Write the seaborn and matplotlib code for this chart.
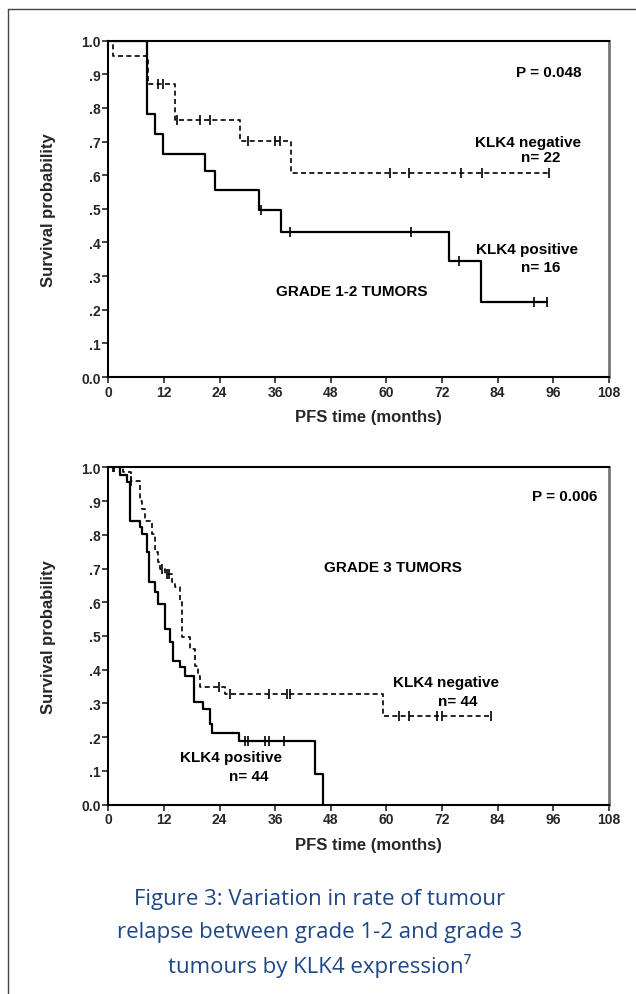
import numpy as np
import pandas as pd
import matplotlib.pyplot as plt
import seaborn as sns
from matplotlib.lines import Line2D

# ---- grade 1-2 tumours (step times in months, survival after step) ----
g12_neg_t = [0, 1.1, 8.6, 14.4, 28.4, 39.4, 95.0]
g12_neg_s = [1.0, 0.954, 0.872, 0.763, 0.703, 0.607, 0.607]
g12_neg_cens = [10.8, 11.9, 14.8, 19.8, 22.0, 30.2, 36.0, 37.0, 60.8, 64.8, 76.0, 80.6, 95.0]

g12_pos_t = [0, 8.3, 10.1, 11.7, 20.9, 23.0, 32.6, 37.3, 73.4, 80.3, 94.7]
g12_pos_s = [1.0, 0.783, 0.723, 0.664, 0.614, 0.557, 0.496, 0.43, 0.344, 0.224, 0.224]
g12_pos_cens = [33.0, 39.2, 65.2, 75.6, 91.8, 94.7]

# ---- grade 3 tumours ----
g3_neg_t = [0, 3.2, 5.0, 6.8, 7.2, 7.9, 9.4, 10.1, 10.8, 11.2, 12.2, 13.7, 14.4,
            15.5, 15.8, 17.6, 18.7, 19.3, 19.8, 25.2, 59.3, 82.6]
g3_neg_s = [1.0, 0.985, 0.96, 0.90, 0.876, 0.842, 0.802, 0.748, 0.718, 0.699, 0.684, 0.659, 0.644,
            0.60, 0.496, 0.461, 0.41, 0.382, 0.35, 0.328, 0.264, 0.264]
g3_neg_cens = [1.0, 5.0, 11.5, 12.6, 13.2, 23.8, 26.3, 34.6, 38.5, 39.2, 62.6, 64.8, 70.9, 72.0, 82.6]

g3_pos_t = [0, 2.5, 4.0, 4.7, 6.8, 7.2, 8.3, 8.8, 10.1, 10.8, 12.2, 13.3, 14.0, 15.5,
            16.6, 18.4, 20.5, 22.0, 22.3, 28.1, 44.5, 46.4]
g3_pos_s = [1.0, 0.977, 0.955, 0.842, 0.822, 0.802, 0.748, 0.659, 0.63, 0.595, 0.52, 0.481, 0.427, 0.408,
            0.382, 0.303, 0.284, 0.239, 0.212, 0.188, 0.091, 0.0]
g3_pos_cens = [1.2, 29.5, 30.2, 33.8, 34.6, 37.8]

x_ticks = [0, 12, 24, 36, 48, 60, 72, 84, 96, 108]
y_ticks = [0.0, 0.1, 0.2, 0.3, 0.4, 0.5, 0.6, 0.7, 0.8, 0.9, 1.0]
y_ticklabels = ["0.0", ".1", ".2", ".3", ".4", ".5", ".6", ".7", ".8", ".9", "1.0"]

caption = ["Figure 3: Variation in rate of tumour",
           "relapse between grade 1-2 and grade 3",
           "tumours by KLK4 expression\u2077"]

sns.set_style("white")
plt.rcParams["font.family"] = ["Liberation Sans", "DejaVu Sans"]

W, H = 636, 995
fig = plt.figure(figsize=(W / 100, H / 100), dpi=100)


def ax_rect(left, top, right, bottom):
    return [left / W, 1 - bottom / H, (right - left) / W, (bottom - top) / H]


def km_frame(t, s):
    return pd.DataFrame({"month": t, "surv": s})


def cens_frame(tc, t, s):
    idx = np.searchsorted(t, tc, side="right") - 1
    return pd.DataFrame({"month": tc, "surv": np.array(s)[idx]})


def draw_panel(ax, neg, pos):
    for (t, s, c), dashed in ((neg, True), (pos, False)):
        sns.lineplot(data=km_frame(t, s), x="month", y="surv", ax=ax, color="black",
                     estimator=None, sort=False, drawstyle="steps-post",
                     linewidth=1.2 if dashed else 1.6,
                     linestyle=(0, (3, 2)) if dashed else "-")
        sns.scatterplot(data=cens_frame(c, t, s), x="month", y="surv", ax=ax,
                        marker="|", s=45, color="black", linewidth=1.2, zorder=3)
    ax.set_xlim(0, 108)
    ax.set_ylim(0, 1)
    ax.set_xticks(x_ticks)
    ax.set_xticklabels([str(v) for v in x_ticks])
    ax.set_yticks(y_ticks)
    ax.set_yticklabels(y_ticklabels)
    ax.tick_params(direction="out", length=4, width=1.2, labelsize=10, pad=1.5,
                   bottom=True, left=True)
    for lab in ax.get_xticklabels() + ax.get_yticklabels():
        lab.set_fontweight("bold")
    for side, sp in ax.spines.items():
        sp.set_visible(True)
        sp.set_linewidth(1.5)
        sp.set_color("black")
    ax.spines["right"].set_color("#777777")
    ax.spines["right"].set_linewidth(2.0)
    ax.set_xlabel("PFS time (months)", fontsize=12, fontweight="bold")
    ax.set_ylabel("Survival probability", fontsize=12, fontweight="bold")
    ax.yaxis.set_label_coords(-0.105, 0.5)
    ax.xaxis.set_label_coords(0.52, -0.095)


txt = dict(fontsize=11, fontweight="bold", color="black")

ax1 = fig.add_axes(ax_rect(108.3, 41.7, 609, 378))
draw_panel(ax1, (g12_neg_t, g12_neg_s, g12_neg_cens), (g12_pos_t, g12_pos_s, g12_pos_cens))
ax1.text(102, 0.908, "P = 0.048", ha="right", va="center", **txt)
ax1.text(102, 0.698, "KLK4 negative", ha="right", va="center", **txt)
ax1.text(97.5, 0.655, "n= 22", ha="right", va="center", **txt)
ax1.text(101.3, 0.381, "KLK4 positive", ha="right", va="center", **txt)
ax1.text(97.5, 0.326, "n= 16", ha="right", va="center", **txt)
ax1.text(52.6, 0.257, "GRADE 1-2 TUMORS", ha="center", va="center", **txt)

ax2 = fig.add_axes(ax_rect(108.3, 468.3, 609, 805.7))
draw_panel(ax2, (g3_neg_t, g3_neg_s, g3_neg_cens), (g3_pos_t, g3_pos_s, g3_pos_cens))
ax2.text(105.5, 0.916, "P = 0.006", ha="right", va="center", **txt)
ax2.text(61.4, 0.704, "GRADE 3 TUMORS", ha="center", va="center", **txt)
ax2.text(84.2, 0.363, "KLK4 negative", ha="right", va="center", **txt)
ax2.text(79.6, 0.308, "n= 44", ha="right", va="center", **txt)
ax2.text(37.5, 0.140, "KLK4 positive", ha="right", va="center", **txt)
ax2.text(34.5, 0.086, "n= 44", ha="right", va="center", **txt)

# page frame
fig.add_artist(Line2D([8 / W, 8 / W], [0, 1 - 10 / H], color="#444444", linewidth=1.0))
fig.add_artist(Line2D([8 / W, 1], [1 - 10 / H, 1 - 10 / H], color="#444444", linewidth=1.0))

for i, line in enumerate(caption):
    fig.text(320 / W, 1 - (900 + 33 * i) / H, line, ha="center", va="center",
             fontsize=16, color="#1f4787", family=["Open Sans", "DejaVu Sans"])

fig.savefig("out.png", dpi=100)
